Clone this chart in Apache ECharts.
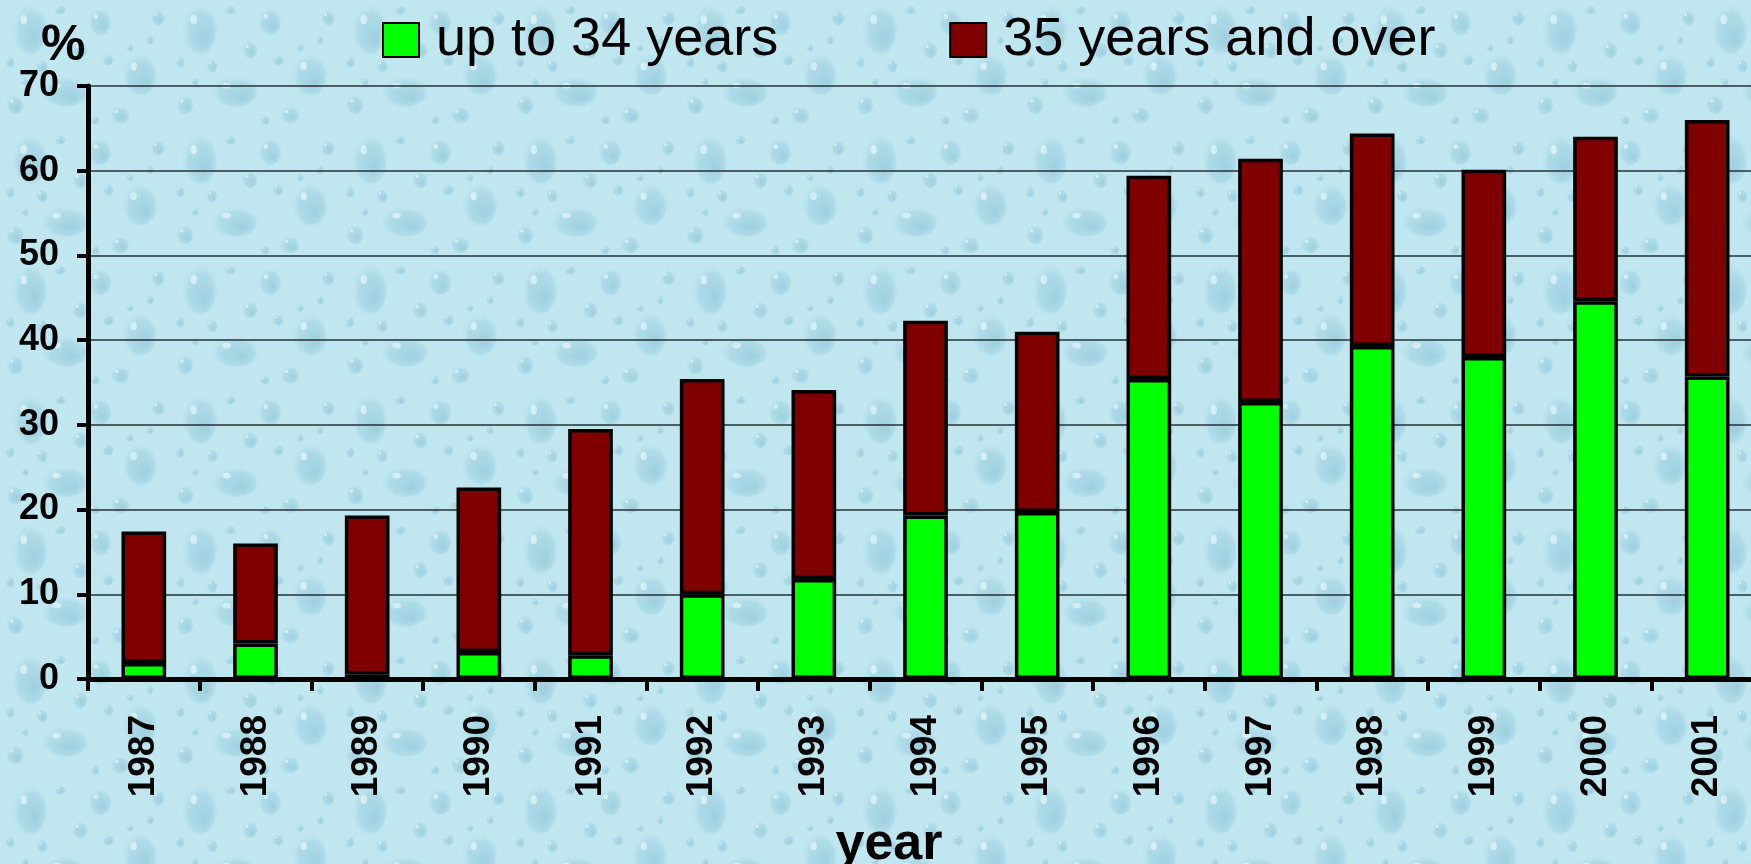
<!DOCTYPE html>
<html>
<head>
<meta charset="utf-8">
<title>Share by age group, 1987–2001</title>
<script src="https://cdn.jsdelivr.net/npm/echarts@6/dist/echarts.min.js"></script>
<style>
  html, body { margin: 0; padding: 0; background: #bde5ee; }
  #chart { width: 1751px; height: 864px; }
</style>
</head>
<body>
<div id="chart"></div>
<script>
// Years on the category axis
const years = ['1987', '1988', '1989', '1990', '1991', '1992', '1993', '1994',
               '1995', '1996', '1997', '1998', '1999', '2000', '2001'];

// Percentages per age group (stacked)
const upTo34 = [1.9, 4.2, 0.5, 3.2, 2.8, 10.0, 11.8, 19.3, 19.7, 35.4, 32.7, 39.3, 38.0, 44.6, 35.7];
const over35 = [15.5, 11.8, 18.8, 19.4, 26.7, 25.4, 22.3, 23.0, 21.3, 24.0, 28.7, 25.1, 22.1, 19.4, 30.3];

const seriesNames = ['up to 34 years', '35 years and over'];
const seriesColors = ['#00ff00', '#800000'];

// Value axis range
const yMin = 0;
const yMax = 70;
const yStep = 10;

// Water-drop backdrop: a small tile of soft droplets, repeated over the canvas
function dropTile() {
  const c = document.createElement('canvas');
  c.width = 170; c.height = 130;
  const g = c.getContext('2d');
  g.fillStyle = '#c0e7f0';
  g.fillRect(0, 0, c.width, c.height);
  // [x, y, rx, ry] of each droplet in the tile
  const drops = [
    [30, 30, 18, 26], [100, 22, 12, 14], [140, 75, 18, 22], [65, 92, 24, 16],
    [15, 105, 9, 10], [120, 115, 10, 9], [80, 50, 8, 9], [158, 18, 7, 8],
    [42, 66, 6, 7], [108, 60, 6, 6], [10, 62, 5, 6], [150, 40, 4, 5],
    [60, 10, 6, 5], [95, 120, 5, 5], [130, 48, 4, 4], [25, 82, 4, 4]
  ];
  drops.forEach(([x, y, rx, ry]) => {
    g.save();
    g.translate(x, y);
    g.scale(1, ry / rx);
    const grad = g.createRadialGradient(rx * 0.3, rx * 0.35, rx * 0.1, 0, 0, rx);
    grad.addColorStop(0, 'rgba(138,194,214,0.6)');
    grad.addColorStop(0.7, 'rgba(152,204,222,0.45)');
    grad.addColorStop(1, 'rgba(170,215,230,0)');
    g.fillStyle = grad;
    g.beginPath();
    g.arc(0, 0, rx, 0, Math.PI * 2);
    g.fill();
    g.fillStyle = 'rgba(232,249,252,0.65)';
    g.beginPath();
    g.arc(-rx * 0.35, -rx * 0.4, rx * 0.18, 0, Math.PI * 2);
    g.fill();
    g.restore();
  });
  return c;
}

const chart = echarts.init(document.getElementById('chart'), null, { renderer: 'canvas' });

const FONT = '"Liberation Sans", Arial, sans-serif';

const barStyle = (color) => ({
  color: color,
  borderColor: '#000',
  borderWidth: 3.5
});

chart.setOption({
  backgroundColor: { image: dropTile(), repeat: 'repeat' },
  animation: false,
  textStyle: { fontFamily: FONT },
  legend: {
    left: 377,
    top: 8,
    itemWidth: 36,
    itemHeight: 34,
    itemGap: 171,
    icon: 'rect',
    itemStyle: { borderColor: '#000', borderWidth: 2 },
    textStyle: {
      fontFamily: FONT,
      fontSize: 54,
      color: '#000',
      padding: [0, 0, 0, 12]
    },
    data: seriesNames
  },
  grid: {
    left: 88,
    right: -12,
    top: 86,
    bottom: 185,
    containLabel: false,
    outerBoundsMode: 'none'
  },
  xAxis: {
    type: 'category',
    data: years,
    boundaryGap: true,
    axisLine: { show: true, lineStyle: { color: '#000', width: 5 } },
    axisTick: { show: true, length: 12, lineStyle: { color: '#000', width: 4 } },
    axisLabel: {
      rotate: 90,
      margin: 36,
      fontFamily: FONT,
      fontSize: 37,
      fontWeight: 'bold',
      color: '#000'
    },
    splitLine: { show: false }
  },
  yAxis: {
    type: 'value',
    min: yMin,
    max: yMax,
    interval: yStep,
    axisLine: { show: true, lineStyle: { color: '#000', width: 5 } },
    axisTick: { show: true, length: 11, lineStyle: { color: '#000', width: 4 } },
    axisLabel: {
      margin: 29,
      fontFamily: FONT,
      fontSize: 36,
      fontWeight: 'bold',
      color: '#000'
    },
    splitLine: { show: true, lineStyle: { color: '#263235', width: 1.5 } }
  },
  series: [
    {
      name: seriesNames[0],
      type: 'bar',
      stack: 'share',
      barWidth: '40%',
      itemStyle: barStyle(seriesColors[0]),
      data: upTo34
    },
    {
      name: seriesNames[1],
      type: 'bar',
      stack: 'share',
      barWidth: '40%',
      itemStyle: barStyle(seriesColors[1]),
      data: over35
    }
  ],
  graphic: [
    {
      type: 'text',
      left: 41,
      top: 21,
      style: {
        text: '%',
        font: 'bold 50px ' + FONT,
        fill: '#000'
      }
    },
    {
      type: 'text',
      x: 889,
      y: 845,
      style: {
        text: 'year',
        font: 'bold 52px ' + FONT,
        fill: '#000',
        align: 'center',
        verticalAlign: 'middle'
      }
    }
  ]
});
</script>
</body>
</html>
